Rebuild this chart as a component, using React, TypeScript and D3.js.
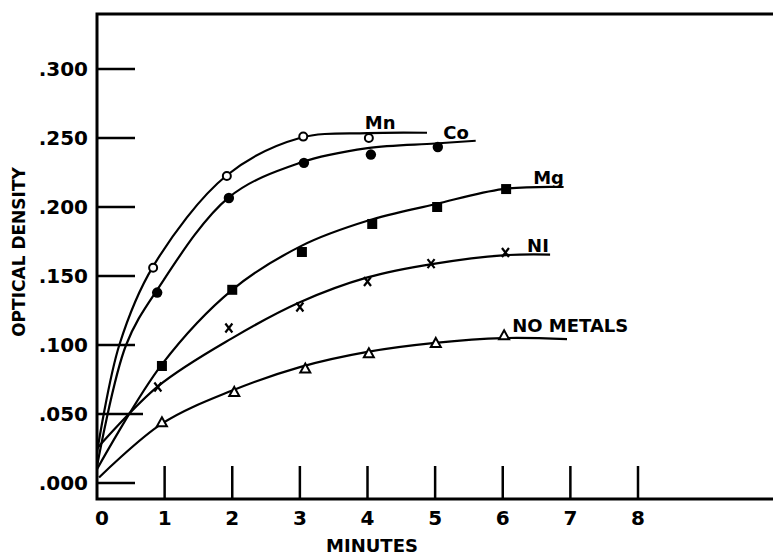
import * as d3 from 'd3';

// minutes vs optical density
const minuteTicks = [0, 1, 2, 3, 4, 5, 6, 7, 8];
const densityTicks = [0, 0.05, 0.1, 0.15, 0.2, 0.25, 0.3];
const densityLabels = ['.000', '.050', '.100', '.150', '.200', '.250', '.300'];

const seriesNames = ['Mn', 'Co', 'Mg', 'NI', 'NO METALS'];
const seriesMarkers = ['openCircle', 'dot', 'square', 'cross', 'triangle'];

const mnPoints = [[0.83, 0.156], [1.92, 0.2225], [3.05, 0.251], [4.02, 0.25]];
const coPoints = [[0.89, 0.138], [1.95, 0.2065], [3.06, 0.232], [4.05, 0.238], [5.04, 0.2435]];
const mgPoints = [[0.96, 0.0848], [2.0, 0.14], [3.03, 0.1674], [4.07, 0.1877], [5.03, 0.2], [6.05, 0.213]];
const niPoints = [[0.9, 0.0696], [1.95, 0.1123], [3.0, 0.1275], [4.0, 0.146], [4.94, 0.159], [6.04, 0.167]];
const noMetalPoints = [[0.96, 0.044], [2.03, 0.066], [3.08, 0.083], [4.02, 0.094], [5.01, 0.1015], [6.02, 0.107]];

// hand-drawn fitted curves
const mnCurve = [[0, 0.022], [0.33, 0.1], [0.83, 0.157], [1.92, 0.223], [3, 0.25], [4, 0.2535], [4.88, 0.2538]];
const coCurve = [[0, 0.012], [0.43, 0.1], [0.89, 0.14], [1.95, 0.207], [3, 0.232], [4, 0.2427], [5, 0.246], [5.6, 0.248]];
const mgCurve = [[0, 0.01], [0.96, 0.086], [2, 0.14], [3.03, 0.172], [4, 0.19], [5, 0.202], [6, 0.213], [6.9, 0.2145]];
const niCurve = [[0, 0.025], [0.9, 0.07], [2, 0.105], [3, 0.131], [4, 0.149], [5, 0.159], [6, 0.165], [6.7, 0.1655]];
const noMetalCurve = [[0.03, 0.004], [0.96, 0.043], [2, 0.067], [3, 0.084], [4, 0.095], [5, 0.1015], [6, 0.105], [6.95, 0.1043]];

// where each curve name is lettered (minutes, density at baseline)
const labelSpots = [[3.96, 0.2565], [5.12, 0.2493], [6.45, 0.2167], [6.36, 0.1674], [6.14, 0.1094]];

const allPoints = [mnPoints, coPoints, mgPoints, niPoints, noMetalPoints];
const allCurves = [mnCurve, coCurve, mgCurve, niCurve, noMetalCurve];

const W = 773;
const H = 555;
const FONT = '"DejaVu Sans", sans-serif';

const x = d3.scaleLinear().domain([0, 8]).range([97, 638]);
const y = d3.scaleLinear().domain([0, 0.3]).range([483, 69]);
const axisY = 499;
const topY = 14;

const line = d3
  .line<number[]>()
  .x(d => x(d[0]))
  .y(d => y(d[1]))
  .curve(d3.curveCatmullRom.alpha(0.5));

function Marker({ kind, cx, cy }: { kind: string; cx: number; cy: number }) {
  if (kind === 'openCircle')
    return <circle cx={cx} cy={cy} r={4} fill="#fff" stroke="#000" strokeWidth={2} />;
  if (kind === 'dot') return <circle cx={cx} cy={cy} r={5.2} fill="#000" />;
  if (kind === 'square') return <rect x={cx - 5} y={cy - 5} width={10} height={10} fill="#000" />;
  if (kind === 'cross')
    return (
      <path
        d={`M${cx - 3.5},${cy - 4.5}L${cx + 3.5},${cy + 4.5}M${cx + 3.5},${cy - 4.5}L${cx - 3.5},${cy + 4.5}`}
        stroke="#000"
        strokeWidth={2.2}
      />
    );
  return (
    <path
      d={`M${cx},${cy - 5}L${cx + 5},${cy + 4}L${cx - 5},${cy + 4}Z`}
      fill="#fff"
      stroke="#000"
      strokeWidth={2}
    />
  );
}

export default function App() {
  return (
    <svg width={W} height={H} style={{ position: 'absolute', left: 0, top: 0, background: '#fff' }}>
      {/* frame: left axis, top rule, bottom axis */}
      <path d={`M${W},${topY}H97V${axisY}H${W}`} fill="none" stroke="#000" strokeWidth={3} />

      {densityTicks.map((t, i) => (
        <g key={t}>
          <line x1={97} x2={i === 1 ? 143 : 135} y1={y(t)} y2={y(t)} stroke="#000" strokeWidth={2.5} />
          <text
            x={88}
            y={y(t)}
            dy="0.36em"
            textAnchor="end"
            fontFamily={FONT}
            fontWeight="bold"
            fontSize={20}
          >
            {densityLabels[i]}
          </text>
        </g>
      ))}

      {minuteTicks.map(t => (
        <g key={t}>
          {t > 0 && <line x1={x(t)} x2={x(t)} y1={axisY} y2={axisY - 33} stroke="#000" strokeWidth={2.5} />}
          <text
            x={x(t) + (t === 0 ? 5 : 0)}
            y={525}
            textAnchor="middle"
            fontFamily={FONT}
            fontWeight="bold"
            fontSize={20}
          >
            {t}
          </text>
        </g>
      ))}

      <text x={372} y={552} textAnchor="middle" fontFamily={FONT} fontWeight="bold" fontSize={18}>
        MINUTES
      </text>
      <text
        transform="translate(25,252) rotate(-90)"
        textAnchor="middle"
        fontFamily={FONT}
        fontWeight="bold"
        fontSize={17}
      >
        OPTICAL DENSITY
      </text>

      {allCurves.map((c, i) => (
        <path key={i} d={line(c) ?? ''} fill="none" stroke="#000" strokeWidth={2.2} />
      ))}

      {allPoints.map((pts, i) =>
        pts.map((p, j) => <Marker key={`${i}-${j}`} kind={seriesMarkers[i]} cx={x(p[0])} cy={y(p[1])} />)
      )}

      {seriesNames.map((name, i) => (
        <text
          key={name}
          x={x(labelSpots[i][0])}
          y={y(labelSpots[i][1])}
          fontFamily={FONT}
          fontWeight="bold"
          fontSize={18}
        >
          {name}
        </text>
      ))}
    </svg>
  );
}
